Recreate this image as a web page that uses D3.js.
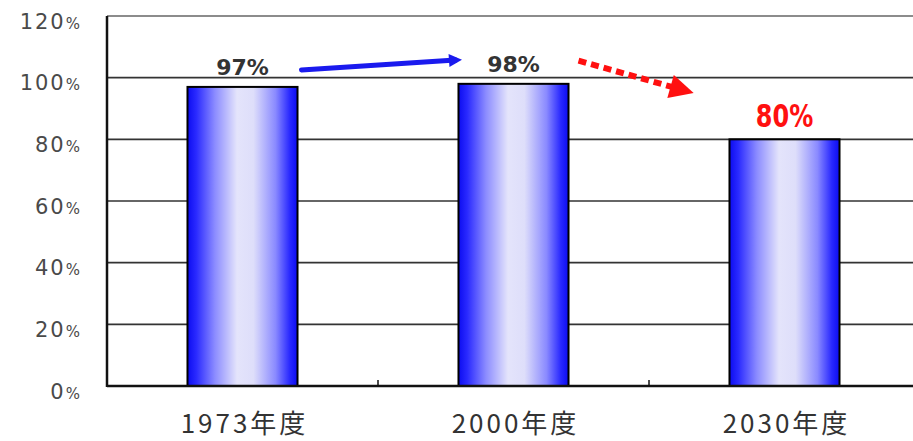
<!DOCTYPE html>
<html>
<head>
<meta charset="utf-8">
<script src="https://cdn.jsdelivr.net/npm/d3@7"></script>
<style>
  body { margin: 0; background: #fff; }
  svg { display: block; }
</style>
</head>
<body>
<svg width="913" height="441"></svg>
<script>
// Data
const years = ["1973年度", "2000年度", "2030年度"];
const rates = [97, 98, 80];
const labelColors = ["#333", "#333", "#ff1010"];
const yTicks = [0, 20, 40, 60, 80, 100, 120];

const svg = d3.select("svg");
const plotLeft = 107, plotRight = 920, plotTop = 16, plotBottom = 386;

const x = d3.scaleBand().domain(years).range([plotLeft, plotRight]).padding(0);
const y = d3.scaleLinear().domain([0, 120]).range([plotBottom, plotTop]);
const barW = x.bandwidth() * 0.406;
const c = i => x(years[i]) + x.bandwidth() / 2;

// gradient for the bars
const defs = svg.append("defs");
const grad = defs.append("linearGradient").attr("id", "barGrad")
    .attr("x1", "0%").attr("x2", "100%").attr("y1", "0%").attr("y2", "0%");
[[0, "#0c0cf0"], [0.08, "#2a2aff"], [0.25, "#8c8cff"], [0.45, "#e4e4fb"], [0.6, "#dedefa"],
 [0.8, "#8a8aff"], [0.93, "#2828ff"], [1, "#0c0cf0"]]
    .forEach(s => grad.append("stop").attr("offset", s[0]).attr("stop-color", s[1]));

// gridlines
svg.append("g").selectAll("line").data(yTicks.filter(d => d > 0)).join("line")
    .attr("x1", plotLeft).attr("x2", 913)
    .attr("y1", d => y(d)).attr("y2", d => y(d))
    .attr("stroke", d => d === 120 ? "#666" : "#333").attr("stroke-width", 1.6);

// y tick labels
const yl = svg.append("g").selectAll("text").data(yTicks).join("text")
    .attr("x", 80).attr("y", d => y(d) + 12.5)
    .attr("text-anchor", "end")
    .style("font-family", "'DejaVu Sans', sans-serif")
    .style("font-size", "21px")
    .style("letter-spacing", "2px")
    .attr("fill", "#4a4a4a");
yl.append("tspan").text(d => d);
yl.append("tspan").style("font-size", "15px").style("letter-spacing", "0px").text("%");

// bars
svg.append("g").selectAll("rect").data(rates).join("rect")
    .attr("x", (d, i) => c(i) - barW / 2)
    .attr("y", d => y(d))
    .attr("width", barW)
    .attr("height", d => plotBottom - y(d))
    .attr("fill", "url(#barGrad)")
    .attr("stroke", "#000").attr("stroke-width", 2);

// axes lines
svg.append("line").attr("x1", plotLeft).attr("x2", plotLeft).attr("y1", plotTop).attr("y2", plotBottom + 1)
    .attr("stroke", "#111").attr("stroke-width", 2.5);
svg.append("line").attr("x1", plotLeft).attr("x2", 913).attr("y1", plotBottom).attr("y2", plotBottom)
    .attr("stroke", "#111").attr("stroke-width", 2.5);

// category tick marks between bands
svg.append("g").selectAll("line").data(years.slice(1)).join("line")
    .attr("x1", d => x(d)).attr("x2", d => x(d))
    .attr("y1", plotBottom - 6).attr("y2", plotBottom)
    .attr("stroke", "#111").attr("stroke-width", 1.5);

// x labels
svg.append("g").selectAll("text").data(years).join("text")
    .attr("x", d => x(d) + x.bandwidth() / 2 + 2)
    .attr("y", 433)
    .attr("text-anchor", "middle")
    .style("font-family", "'Noto Sans CJK JP', sans-serif")
    .style("font-size", "26px")
    .style("letter-spacing", "3px")
    .attr("fill", "#333")
    .text(d => d);

// value labels
svg.append("g").selectAll("text").data(rates).join("text")
    .attr("transform", (d, i) => `translate(${c(i)},${y(d) - 12}) scale(1,${i === 2 ? 1.35 : 1})`)
    .attr("text-anchor", "middle")
    .style("font-family", "'DejaVu Sans', sans-serif")
    .style("font-size", (d, i) => i === 2 ? "24px" : "22px")
    .style("font-weight", "bold")
    .attr("fill", (d, i) => labelColors[i])
    .text(d => d + "%");

// arrows
defs.append("marker").attr("id", "headBlue").attr("viewBox", "0 0 10 10")
    .attr("refX", 5).attr("refY", 5).attr("markerWidth", 3).attr("markerHeight", 2.6)
    .attr("orient", "auto").attr("markerUnits", "strokeWidth")
    .append("path").attr("d", "M0,0 L10,5 L0,10 Z").attr("fill", "#1a1aee");
defs.append("marker").attr("id", "headRed").attr("viewBox", "0 0 10 10")
    .attr("refX", 3).attr("refY", 5).attr("markerWidth", 4.5).attr("markerHeight", 4)
    .attr("orient", "auto").attr("markerUnits", "strokeWidth")
    .append("path").attr("d", "M0,0 L10,5 L0,10 Z").attr("fill", "#ff1010");

svg.append("line")
    .attr("x1", c(0) + barW / 2 + 4).attr("y1", y(102.5))
    .attr("x2", c(1) - barW / 2 - 3).attr("y2", y(105.7))
    .attr("stroke", "#1a1aee").attr("stroke-width", 5).attr("stroke-linecap", "round")
    .attr("marker-end", "url(#headBlue)");
svg.append("line")
    .attr("x1", c(1) + barW / 2 + 10).attr("y1", y(105.5))
    .attr("x2", c(2) - barW / 2 - 52).attr("y2", y(96.5))
    .attr("stroke", "#ff1010").attr("stroke-width", 6).attr("stroke-dasharray", "8,5")
    .attr("marker-end", "url(#headRed)");
</script>
</body>
</html>
